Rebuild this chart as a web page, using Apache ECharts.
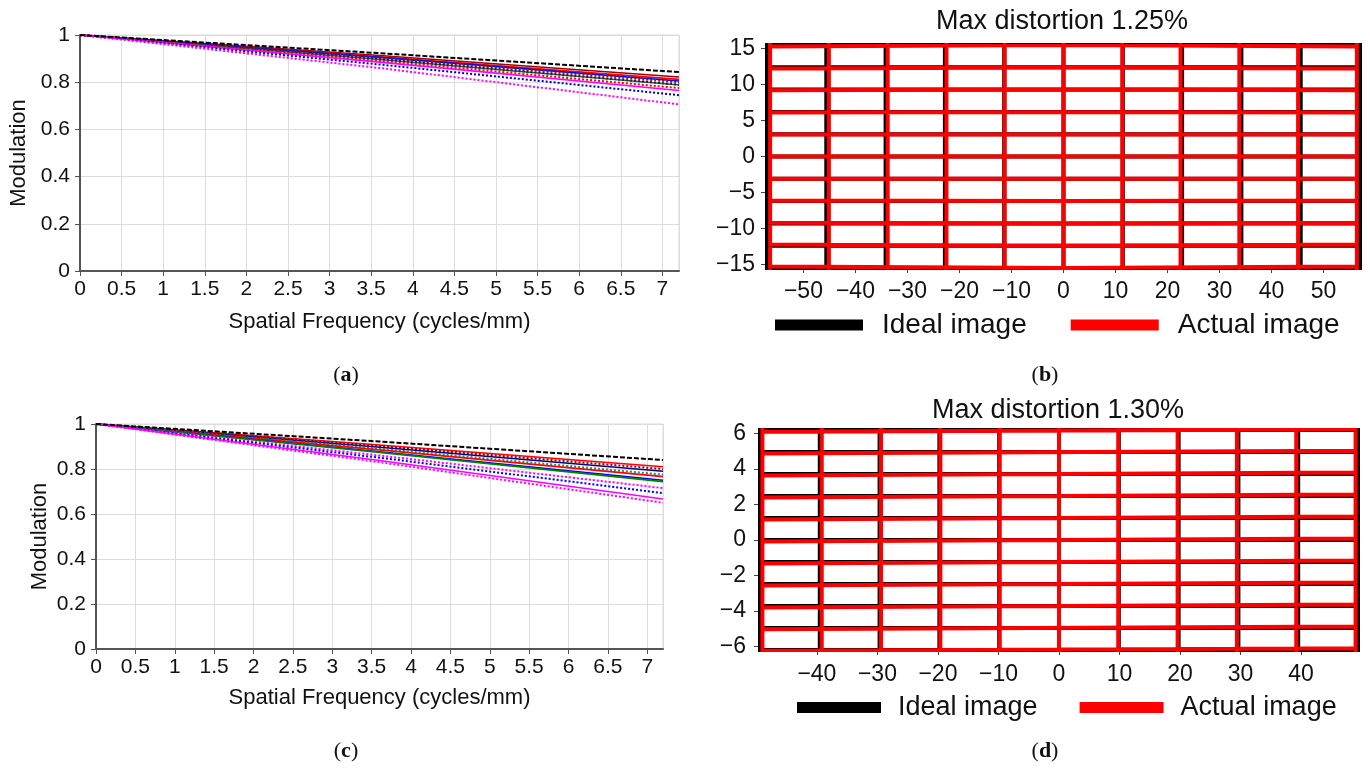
<!DOCTYPE html>
<html>
<head>
<meta charset="utf-8">
<script src="https://cdn.jsdelivr.net/npm/echarts@6/dist/echarts.min.js"></script>
<style>
  html, body { margin: 0; padding: 0; background: #fff; }
  #main { width: 1370px; height: 769px; }
</style>
</head>
<body>
<div id="main"></div>
<script>
// ---------------- data ----------------
// MTF, panel (a) and (c): modulation at these frequencies
var freq = [0, 3.6, 7.2];
var mtfA = [
  [1, 0.913, 0.822],
  [1, 0.908, 0.812],
  [1, 0.905, 0.805],
  [1, 0.902, 0.800],
  [1, 0.896, 0.788],
  [1, 0.897, 0.790],
  [1, 0.890, 0.775],
  [1, 0.885, 0.765],
  [1, 0.875, 0.745],
  [1, 0.860, 0.706],
  [1, 0.923, 0.843]
];
var mtfC = [
  [1, 0.907, 0.810],
  [1, 0.902, 0.800],
  [1, 0.897, 0.790],
  [1, 0.890, 0.775],
  [1, 0.885, 0.766],
  [1, 0.877, 0.750],
  [1, 0.874, 0.744],
  [1, 0.860, 0.715],
  [1, 0.850, 0.693],
  [1, 0.838, 0.667],
  [1, 0.830, 0.650],
  [1, 0.922, 0.840]
];
// line colour / type for each MTF curve
var styleA = [
  ['#a00000', 'solid'], ['#ff0000', 'solid'], ['#0000ff', 'solid'], ['#8b1a1a', 'dotted'],
  ['#008000', 'solid'], ['#4b0082', 'dotted'], ['#ff0000', 'dotted'], ['#ff00ff', 'solid'],
  ['#0000cd', 'dotted'], ['#ff00ff', 'dotted'], ['#000000', 'dashed']
];
var styleC = [
  ['#ff0000', 'solid'], ['#a00000', 'dotted'], ['#00008b', 'solid'], ['#2e8b57', 'dotted'],
  ['#ff0000', 'solid'], ['#0000ff', 'solid'], ['#008000', 'solid'], ['#ff00ff', 'dotted'],
  ['#0000ff', 'dotted'], ['#ff00ff', 'solid'], ['#ff00ff', 'dotted'], ['#000000', 'dashed']
];

// distortion grid (b): ideal line positions and actual (distorted) ones
var bIdealX = [-57, -45.6, -34.2, -22.8, -11.4, 0, 11.4, 22.8, 34.2, 45.6, 57];
var bIdealY = [-15.5, -12.4, -9.3, -6.2, -3.1, 0, 3.1, 6.2, 9.3, 12.4, 15.5];
var bActualX = [-56.4, -45.1, -33.8, -22.5, -11.3, 0, 11.3, 22.5, 33.8, 45.1, 56.4];
var bActualYEnd = [-15.3, -12.25, -9.2, -6.13, -3.06, 0, 3.06, 6.13, 9.2, 12.25, 15.3];
var bActualYMid = [-15.5, -12.4, -9.3, -6.2, -3.1, 0, 3.1, 6.2, 9.3, 12.4, 15.5];

// distortion grid (d)
var dIdealX = [-49.4, -39.52, -29.64, -19.76, -9.88, 0, 9.88, 19.76, 29.64, 39.52, 49.4];
var dIdealY = [-6.2, -4.96, -3.72, -2.48, -1.24, 0, 1.24, 2.48, 3.72, 4.96, 6.2];
var dActualX = [-49.0, -39.2, -29.4, -19.6, -9.8, 0, 9.8, 19.6, 29.4, 39.2, 49.0];
var dActualYLeft = [-6.24, -5.03, -3.80, -2.56, -1.32, -0.08, 1.16, 2.40, 3.64, 4.88, 6.10];
var dActualYRight = [-6.10, -4.88, -3.64, -2.40, -1.16, 0.08, 1.32, 2.56, 3.80, 5.03, 6.24];

var bTicksX = [-50, -40, -30, -20, -10, 0, 10, 20, 30, 40, 50];
var bTicksY = [-15, -10, -5, 0, 5, 10, 15];
var dTicksX = [-40, -30, -20, -10, 0, 10, 20, 30, 40];
var dTicksY = [-6, -4, -2, 0, 2, 4, 6];

// ---------------- helpers ----------------
var FONT = '"Liberation Sans", Arial, sans-serif';

function minus(v) {
  return v < 0 ? '\u2212' + (-v) : String(v);
}

function idealLines(xs, ys) {
  var d = [];
  xs.forEach(function (x) { d.push([x, ys[0]], [x, ys[ys.length - 1]], null); });
  ys.forEach(function (y) { d.push([xs[0], y], [xs[xs.length - 1], y], null); });
  return d;
}

function actualLinesB() {
  var d = [];
  var y0 = bIdealY[0], y1 = bIdealY[bIdealY.length - 1];
  bActualX.forEach(function (x) { d.push([x, y0], [x, y1], null); });
  var xl = bActualX[0], xr = bActualX[bActualX.length - 1];
  bActualYEnd.forEach(function (y, i) {
    d.push([xl, y], [0, bActualYMid[i]], [xr, y], null);
  });
  return d;
}

function actualLinesD() {
  var d = [];
  var y0 = dIdealY[0], y1 = dIdealY[dIdealY.length - 1];
  dActualX.forEach(function (x) { d.push([x, y0], [x, y1], null); });
  var xl = dActualX[0], xr = dActualX[dActualX.length - 1];
  dActualYLeft.forEach(function (y, i) {
    d.push([xl, y], [xr, dActualYRight[i]], null);
  });
  return d;
}

function mtfSeries(values, styles, axis) {
  return values.map(function (vals, i) {
    var st = styles[i];
    var type = st[1] === 'dashed' ? [5, 2] : st[1];
    return {
      type: 'line',
      xAxisIndex: axis, yAxisIndex: axis,
      symbol: 'none',
      silent: true,
      data: freq.map(function (f, k) { return [f, vals[k]]; }),
      lineStyle: { color: st[0], width: st[1] === 'solid' ? 1.6 : 2, type: type }
    };
  });
}

function mtfX(idx, gap) {
  return {
    type: 'value', gridIndex: idx, min: 0, max: 7.2, interval: 0.5,
    name: 'Spatial Frequency (cycles/mm)', nameLocation: 'middle', nameGap: gap,
    nameTextStyle: { fontSize: 22, color: '#111', fontFamily: FONT },
    axisLine: { show: true, lineStyle: { color: '#555', width: 2 } },
    axisTick: { show: true, length: 5, lineStyle: { color: '#555' } },
    axisLabel: { fontSize: 21, color: '#111', fontFamily: FONT, margin: 8, showMaxLabel: false },
    splitLine: { show: true, lineStyle: { color: '#dcdcdc', width: 1 } }
  };
}

function mtfY(idx, gap) {
  return {
    type: 'value', gridIndex: idx, min: 0, max: 1, interval: 0.2,
    name: 'Modulation', nameLocation: 'middle', nameGap: gap,
    nameTextStyle: { fontSize: 22, color: '#111', fontFamily: FONT },
    axisLine: { show: true, lineStyle: { color: '#555', width: 2 } },
    axisTick: { show: true, length: 5, lineStyle: { color: '#555' } },
    axisLabel: { fontSize: 21, color: '#111', fontFamily: FONT, margin: 10 },
    splitLine: { show: true, lineStyle: { color: '#dcdcdc', width: 1 } }
  };
}

function distX(idx, min, max, ticks, margin) {
  return {
    type: 'value', gridIndex: idx, min: min, max: max,
    axisLine: { show: false, onZero: false },
    axisTick: { show: true, length: 5, customValues: ticks, lineStyle: { color: '#444' } },
    axisLabel: { fontSize: 23, color: '#111', fontFamily: FONT, margin: margin, customValues: ticks, formatter: minus },
    splitLine: { show: false }
  };
}

function distY(idx, min, max, ticks, margin) {
  return {
    type: 'value', gridIndex: idx, min: min, max: max,
    axisLine: { show: false, onZero: false },
    axisTick: { show: true, length: 6, customValues: ticks, lineStyle: { color: '#444' } },
    axisLabel: { fontSize: 23, color: '#111', fontFamily: FONT, margin: margin, customValues: ticks, formatter: minus },
    splitLine: { show: false }
  };
}

function gridSeries(name, color, data, axis) {
  return {
    type: 'line', name: name,
    xAxisIndex: axis, yAxisIndex: axis,
    symbol: 'none', silent: true, connectNulls: false,
    data: data,
    itemStyle: { color: color },
    lineStyle: { color: color, width: 4, cap: 'square', join: 'miter' }
  };
}

function caption(letter, cx, cy) {
  return {
    type: 'text', x: cx, y: cy,
    style: {
      text: '{n|(}{b|' + letter + '}{n|)}',
      align: 'center', verticalAlign: 'middle',
      rich: {
        n: { fontSize: 22, fontFamily: '"Liberation Serif", "DejaVu Serif", serif', fill: '#111' },
        b: { fontSize: 22, fontFamily: '"Liberation Serif", "DejaVu Serif", serif', fontWeight: 'bold', fill: '#111' }
      }
    }
  };
}

function legendFor(left, top, size, width, gap, pad) {
  return {
    left: left, top: top, orient: 'horizontal', padding: 0,
    icon: 'rect', itemWidth: width, itemHeight: 11, itemGap: gap,
    selectedMode: false,
    data: ['Ideal image', 'Actual image'],
    textStyle: { fontSize: size, color: '#111', fontFamily: FONT, padding: [0, 0, 0, pad] }
  };
}

// ---------------- chart ----------------
var dom = document.getElementById('main');
var myChart = echarts.init(dom);

var series = []
  .concat(mtfSeries(mtfA, styleA, 0))
  .concat(mtfSeries(mtfC, styleC, 2))
  .concat([
    gridSeries('Ideal image', '#000000', idealLines(bIdealX, bIdealY), 1),
    gridSeries('Actual image', '#ff0000', actualLinesB(), 1),
    gridSeries('Ideal image', '#000000', idealLines(dIdealX, dIdealY), 3),
    gridSeries('Actual image', '#ff0000', actualLinesD(), 3)
  ]);

var option = {
  animation: false,
  backgroundColor: '#fff',
  grid: [
    { left: 80, right: 691, top: 35, bottom: 498, show: true, borderColor: '#dcdcdc', borderWidth: 1 },
    { left: 767, right: 10, top: 45, bottom: 501 },
    { left: 96, right: 707, top: 424, bottom: 120, show: true, borderColor: '#dcdcdc', borderWidth: 1 },
    { left: 760, right: 12, top: 430, bottom: 119 }
  ],
  xAxis: [
    mtfX(0, 40),
    distX(1, -57, 57, bTicksX, 12),
    mtfX(2, 38),
    distX(3, -49.4, 49.4, dTicksX, 13)
  ],
  yAxis: [
    mtfY(0, 50),
    distY(1, -15.5, 15.5, bTicksY, 12),
    mtfY(2, 45),
    distY(3, -6.2, 6.2, dTicksY, 14)
  ],
  legend: [legendFor(775, 311, 28, 88, 44, 14), legendFor(797, 694, 27, 84, 42, 12)],
  graphic: [
    { type: 'text', x: 1062, y: 22, style: { text: 'Max distortion 1.25%', fontSize: 27, fontFamily: FONT, fill: '#111', align: 'center', verticalAlign: 'middle' } },
    { type: 'text', x: 1058, y: 411, style: { text: 'Max distortion 1.30%', fontSize: 27, fontFamily: FONT, fill: '#111', align: 'center', verticalAlign: 'middle' } },
    caption('a', 346, 375),
    caption('b', 1045, 375),
    caption('c', 346, 751),
    caption('d', 1045, 751)
  ],
  series: series
};

myChart.setOption(option, true);
window.onresize = function () {
  myChart.resize();
};
</script>
</body>
</html>
